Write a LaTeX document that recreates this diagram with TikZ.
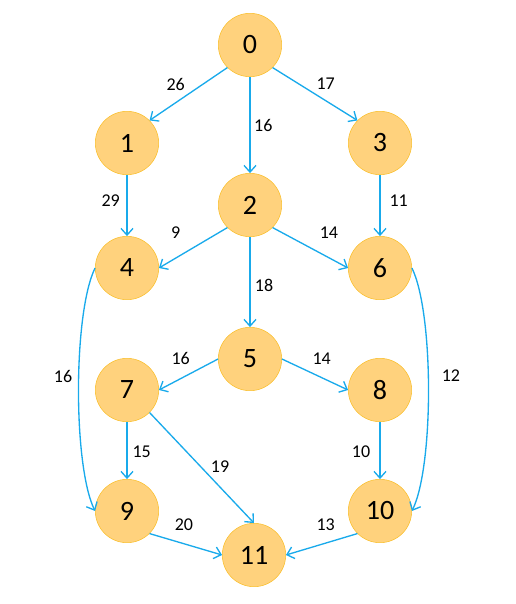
\documentclass[tikz,border=0pt]{standalone}
\usepackage{fontspec}
\setmainfont{Carlito}
\usetikzlibrary{arrows.meta}

\definecolor{vertexfill}{RGB}{255,210,125}
\definecolor{vertexline}{RGB}{250,190,40}
\definecolor{edgeblue}{RGB}{25,170,235}

\begin{document}
\begin{tikzpicture}
  [
    x = 0.75pt, y = -0.75pt,
    vertex/.style = {circle,minimum size=47.5pt,inner sep=0pt,fill=vertexfill,draw=vertexline,thin,font=\fontsize{21}{21}\selectfont},
    edge/.style = {draw=edgeblue,line width=1pt},
    weight/.style = {font=\fontsize{13.5}{13.5}\selectfont,inner sep=1pt},
    > = {Straight Barb[length=5pt,width=9pt]},
  ]

  \useasboundingbox (0,0) rectangle (516,604);

  \node[vertex] (n0)  at (250,45)  {0};
  \node[vertex] (n1)  at (127,143) {1};
  \node[vertex] (n2)  at (250,205) {2};
  \node[vertex] (n3)  at (380,143) {3};
  \node[vertex] (n4)  at (127,268) {4};
  \node[vertex] (n5)  at (250,359) {5};
  \node[vertex] (n6)  at (380,268) {6};
  \node[vertex] (n7)  at (127,390) {7};
  \node[vertex] (n8)  at (380,390) {8};
  \node[vertex] (n9)  at (127,511) {9};
  \node[vertex] (n10) at (380,511) {10};
  \node[vertex] (n11) at (254,555) {11};

  \draw [->, edge] (n0.south west) -- node[weight,xshift=-9.6,yshift=7.5] {26} (n1.north east);
  \draw [->, edge] (n0.south) -- node[weight,xshift=10,yshift=-0.5]        {16} (n2.north);
  \draw [->, edge] (n0.south east) -- node[weight,xshift=8,yshift=7.5]     {17} (n3.north west);
  \draw [->, edge] (n1.south) -- node[weight,xshift=-12.2,yshift=3.6]      {29} (n4.north);
  \draw [->, edge] (n3.south) -- node[weight,xshift=14,yshift=3.6]         {11} (n6.north);
  \draw [->, edge] (n2.south west) -- node[weight,xshift=-13.1,yshift=11.5] {9} (n4.east);
  \draw [->, edge] (n2.south east) -- node[weight,xshift=14,yshift=11.5]   {14} (n6.west);
  \draw [->, edge] (n2.south) -- node[weight,xshift=10.5,yshift=-2.2]      {18} (n5.north);
  \draw [->, edge] (n4.west) .. controls +(-22,45) and +(-22,-45) .. node[weight,xshift=-11.6,yshift=10.1] {16} (n9.west);
  \draw [->, edge] (n6.east) .. controls +(22,45) and +(22,-45) .. node[weight,xshift=16.9,yshift=10.1] {12} (n10.east);
  \draw [->, edge] (n5.west) -- node[weight,xshift=-5.9,yshift=12.2]      {16} (n7.east);
  \draw [->, edge] (n5.east) -- node[weight,xshift=5,yshift=12.2]         {14} (n8.west);
  \draw [->, edge] (n7.south) -- node[weight,xshift=11,yshift=-0.9]       {15} (n9.north);
  \draw [->, edge] (n7.south east) -- node[weight,xshift=13.7,yshift=0.9] {19} (n11.north);
  \draw [->, edge] (n8.south) -- node[weight,xshift=-14.2,yshift=-0.9]    {10} (n10.north);
  \draw [->, edge] (n9.south east) -- node[weight,xshift=-1.4,yshift=14.4] {20} (n11.west);
  \draw [->, edge] (n10.south west) -- node[weight,xshift=3,yshift=14.4]  {13} (n11.east);

\end{tikzpicture}
\end{document}
